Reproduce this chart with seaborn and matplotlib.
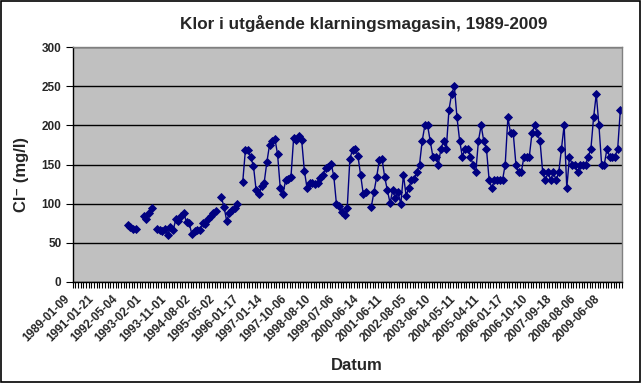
import numpy as np
import pandas as pd
import seaborn as sns
import matplotlib.pyplot as plt
import matplotlib.transforms as mtransforms
from matplotlib.patches import Rectangle

# x-axis labels, one every 9th sample
tick_labels = ["1989-01-09", "1991-01-21", "1992-05-04", "1993-02-01", "1993-11-01",
               "1994-08-02", "1995-05-02", "1996-01-17", "1997-01-14", "1997-10-06",
               "1998-08-10", "1999-07-06", "2000-06-14", "2001-06-11", "2002-08-05",
               "2003-06-10", "2004-05-11", "2005-04-11", "2006-01-17", "2006-10-10",
               "2007-09-18", "2008-08-06", "2009-06-08"]
label_step = 9

# chloride, mg/l (None = no sample)
chlorine = ([None] * 20 +
            [73, 70, 68, 68, None, None, 84, 80, 88, 95,
             None, 68, 66, 65, 68, 60, 70, 66, 80, 78,
             84, 88, 76, 75, 61, 65, 67, 67, 75, 74,
             81, 84, 88, 91, None, 108, 96, 78, 88, 92,
             95, 100, None, 128, 169, 169, 159, 148, 117, 112,
             123, 127, 153, 175, 180, 183, 163, 120, 112, 130,
             131, 134, 184, 181, 186, 181, 142, 120, 127, 127,
             125, 127, 133, 137, 146, 147, 151, 135, 99, 97,
             89, 85, 94, 157, 169, 170, 161, 137, 112, 115,
             None, 96, 115, 134, 156, 157, 134, 117, 101, 117,
             107, 115, 99, 137, 110, 120, 130, 131, 140, 150,
             180, 200, 200, 180, 160, 160, 150, 170, 180, 170,
             220, 240, 250, 210, 180, 160, 170, 170, 160, 150,
             140, 180, 200, 180, 170, 130, 120, 130, 130, 130,
             130, 150, 210, 190, 190, 150, 140, 140, 160, 160,
             160, 190, 200, 190, 180, 140, 130, 140, 130, 140,
             130, 140, 170, 200, 120, 160, 150, 150, 140, 150,
             150, 150, 160, 170, 210, 240, 200, 150, 150, 170,
             160, 160, 160, 170, 220])

df = pd.DataFrame({"pos": np.arange(len(chlorine)),
                   "cl": np.array(chlorine, dtype=float)})
# break the line where samples are missing
df["seg"] = df["cl"].isna().cumsum()
df = df.dropna()

sns.set_style("ticks")
plt.rcParams["font.family"] = ["Liberation Sans", "DejaVu Sans"]

navy = "#000080"
fig = plt.figure(figsize=(6.41, 3.83), dpi=100)
ax = fig.add_axes([72.7 / 641, 1 - 282 / 383, 549 / 641, 235 / 383])
ax.set_facecolor("#C0C0C0")

sns.lineplot(data=df, x="pos", y="cl", units="seg", estimator=None,
             color=navy, lw=1, marker="D", markersize=3.8,
             markeredgecolor=navy, markeredgewidth=0.6, ax=ax)

n = len(chlorine)
ax.set_xlim(-0.5, n - 0.5)
ax.set_ylim(0, 300)
ax.set_yticks(range(0, 301, 50))
ax.yaxis.grid(True, color="black", lw=1)
ax.set_axisbelow(True)

ax.set_xticks(np.arange(0, n, label_step)[:len(tick_labels)])
ax.set_xticklabels(tick_labels, rotation=45, ha="right", va="center",
                   rotation_mode="anchor", fontsize=8.5, fontweight="bold")
ax.set_xticks(np.arange(-0.5, n, 1), minor=True)
ax.tick_params(axis="x", which="major", length=0, pad=11)
ax.tick_params(axis="x", which="minor", length=4, width=0.8, color="black", direction="out")
ax.tick_params(axis="y", length=5, width=0.8, color="black", labelsize=8.5, pad=3)
for t in ax.get_yticklabels():
    t.set_fontweight("bold")
shift = mtransforms.ScaledTranslation(-6 / 100, 0, fig.dpi_scale_trans)
for lab in ax.get_xticklabels():
    lab.set_transform(lab.get_transform() + shift)

for s in ["left", "bottom"]:
    ax.spines[s].set_color("black")
    ax.spines[s].set_linewidth(1)
for s in ["top", "right"]:
    ax.spines[s].set_color("#808080")
    ax.spines[s].set_linewidth(1)

ax.set_xlabel("")
ax.set_ylabel("")
fig.text(364 / 641, 1 - 23 / 383, "Klor i utgående klarningsmagasin, 1989-2009",
         ha="center", va="center", fontsize=12.3, fontweight="bold")
fig.text(22 / 641, 1 - 175 / 383, "Cl\u207b (mg/l)", rotation=90,
         ha="center", va="center", fontsize=12, fontweight="bold")
fig.text(357 / 641, 1 - 365 / 383, "Datum", ha="center", va="center",
         fontsize=12, fontweight="bold")

fig.patches.append(Rectangle((0.001, 0.002), 0.997, 0.995, transform=fig.transFigure,
                             fill=False, ec="black", lw=1.2))

fig.savefig("out.png", dpi=100)
